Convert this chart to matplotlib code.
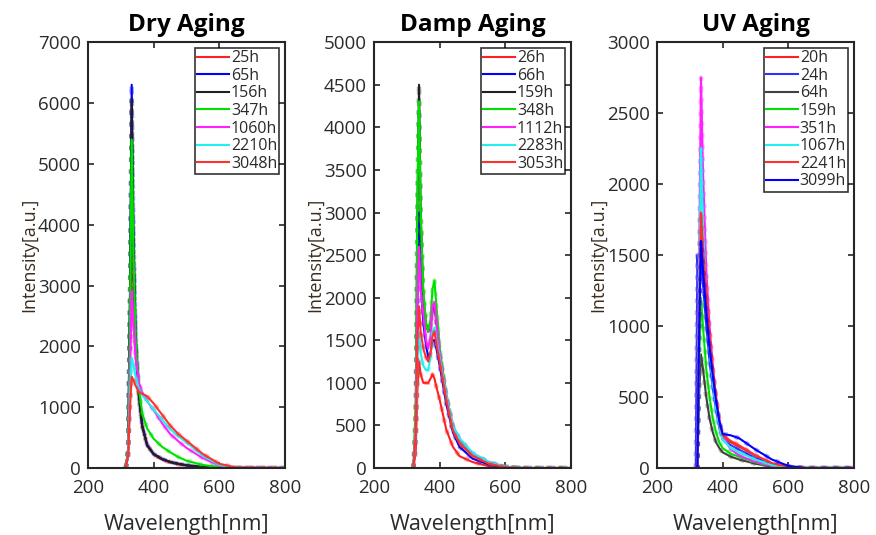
import matplotlib
matplotlib.use('Agg')
import matplotlib.pyplot as plt
import numpy as np

plt.rcParams['font.family'] = ['Open Sans', 'DejaVu Sans']

TXT = '#2a2a2a'

# ---- Dry Aging ----
dry_wl = [315, 322, 328, 333, 338, 345, 355, 365, 380, 400, 425, 450, 475, 500, 550, 600, 650, 800]
dry_labels = ['25h', '65h', '156h', '347h', '1060h', '2210h', '3048h']
dry_colors = ['#ff2020', '#0000ff', '#202020', '#00e000', '#ff20ff', '#20f0f0', '#ff3030']
dry_25 = [0, 200, 2000, 3850, 3000, 2000, 1200, 700, 380, 220, 140, 90, 60, 40, 15, 5, 0, 0]
dry_65 = [0, 300, 3000, 6300, 4000, 2200, 1200, 700, 380, 230, 150, 100, 70, 45, 15, 5, 0, 0]
dry_156 = [0, 300, 2900, 6050, 3800, 2100, 1150, 680, 370, 230, 150, 100, 70, 45, 15, 5, 0, 0]
dry_347 = [0, 300, 2500, 5400, 3600, 2100, 1300, 900, 650, 480, 350, 260, 180, 120, 50, 15, 0, 0]
dry_1060 = [0, 200, 1500, 2900, 2400, 1800, 1400, 1250, 1100, 950, 740, 560, 440, 330, 160, 40, 5, 0]
dry_2210 = [0, 200, 1200, 1800, 1700, 1500, 1300, 1200, 1100, 960, 800, 640, 520, 420, 200, 50, 5, 0]
dry_3048 = [0, 200, 1000, 1500, 1450, 1350, 1250, 1220, 1180, 1060, 880, 700, 560, 450, 230, 70, 10, 0]
dry_series = [dry_25, dry_65, dry_156, dry_347, dry_1060, dry_2210, dry_3048]

# ---- Damp Aging ----
damp_wl = [320, 327, 332, 337, 342, 350, 358, 365, 372, 378, 384, 390, 400, 420, 440, 460, 500, 550, 600, 650, 800]
damp_labels = ['26h', '66h', '159h', '348h', '1112h', '2283h', '3053h']
damp_colors = ['#ff2020', '#0000ff', '#202020', '#00e000', '#ff20ff', '#20f0f0', '#ff3030']
damp_26 = [0, 200, 900, 1250, 1100, 1000, 1000, 1000, 1050, 1100, 1050, 950, 800, 450, 250, 140, 70, 20, 5, 0, 0]
damp_66 = [0, 400, 2000, 3000, 2200, 1700, 1450, 1300, 1350, 1500, 1500, 1400, 1200, 750, 420, 250, 110, 40, 10, 0, 0]
damp_159 = [0, 600, 3000, 4500, 3000, 2000, 1700, 1600, 1650, 1850, 1900, 1700, 1350, 850, 480, 330, 160, 60, 15, 0, 0]
damp_348 = [0, 800, 3200, 4300, 3000, 2100, 1700, 1600, 1750, 2100, 2200, 1900, 1400, 850, 480, 320, 150, 60, 15, 0, 0]
damp_1112 = [0, 500, 1900, 2600, 2100, 1800, 1500, 1400, 1550, 1900, 1950, 1700, 1350, 850, 500, 340, 170, 70, 15, 0, 0]
damp_2283 = [0, 400, 1300, 1600, 1350, 1200, 1150, 1150, 1300, 1600, 1650, 1500, 1300, 850, 500, 350, 180, 70, 15, 0, 0]
damp_3053 = [0, 400, 1500, 1900, 1600, 1400, 1300, 1250, 1350, 1550, 1600, 1450, 1250, 800, 440, 290, 140, 50, 10, 0, 0]
damp_series = [damp_26, damp_66, damp_159, damp_348, damp_1112, damp_2283, damp_3053]

# ---- UV Aging ----
uv_wl = [318, 323, 328, 334, 340, 350, 360, 370, 380, 390, 400, 425, 450, 475, 500, 550, 600, 650, 800]
uv_labels = ['20h', '24h', '64h', '159h', '351h', '1067h', '2241h', '3099h']
uv_colors = ['#ff2020', '#3030ff', '#404040', '#00e000', '#ff20ff', '#20f0f0', '#ff3030', '#0000ff']
uv_20 = [0, 0, 900, 1750, 1500, 1150, 900, 680, 480, 320, 220, 180, 150, 120, 85, 30, 8, 0, 0]
uv_24 = [0, 1500, 1300, 1500, 1300, 1000, 750, 560, 400, 280, 200, 160, 130, 100, 70, 25, 6, 0, 0]
uv_64 = [0, 0, 500, 800, 700, 500, 350, 250, 180, 140, 110, 80, 60, 45, 30, 10, 2, 0, 0]
uv_159 = [0, 0, 700, 1200, 1000, 700, 500, 350, 250, 180, 140, 100, 80, 60, 40, 15, 4, 0, 0]
uv_351 = [0, 0, 1400, 2750, 2100, 1400, 1000, 700, 480, 320, 220, 130, 90, 65, 45, 15, 4, 0, 0]
uv_1067 = [0, 0, 1200, 2250, 1700, 1200, 850, 600, 420, 290, 200, 140, 110, 85, 60, 20, 5, 0, 0]
uv_2241 = [0, 0, 1000, 1800, 1550, 1250, 950, 700, 500, 330, 230, 190, 160, 125, 90, 35, 8, 0, 0]
uv_3099 = [0, 0, 900, 1600, 1400, 1100, 850, 650, 470, 330, 240, 230, 210, 170, 130, 60, 15, 0, 0]
uv_series = [uv_20, uv_24, uv_64, uv_159, uv_351, uv_1067, uv_2241, uv_3099]

panels = [
    ('Dry Aging', dry_wl, dry_series, dry_labels, dry_colors, 7000, 1000, 0.1005),
    ('Damp Aging', damp_wl, damp_series, damp_labels, damp_colors, 5000, 500, 0.427),
    ('UV Aging', uv_wl, uv_series, uv_labels, uv_colors, 3000, 500, 0.750),
]

fig = plt.figure(figsize=(8.76, 5.35), dpi=100)

for title, wl, series, labels, colors, ymax, ystep, left in panels:
    ax = fig.add_axes([left, 0.1252, 0.2249, 0.796])
    for vals, lab, col in zip(series, labels, colors):
        # fuzzy dotted halo like the scanned spectra
        ax.plot(wl, vals, color=col, lw=3.2, ls=':', alpha=0.35)
        ax.plot(wl, vals, color=col, lw=1.5, label=lab)
    ax.set_xlim(200, 800)
    ax.set_ylim(0, ymax)
    ax.set_xticks([200, 400, 600, 800])
    ax.set_yticks(np.arange(0, ymax + 1, ystep))
    ax.tick_params(direction='in', top=True, right=True, labelsize=13.5,
                   colors='#262626', labelcolor=TXT, length=4, width=1.2, pad=5)
    ax.tick_params(axis='x', pad=8)
    for sp in ax.spines.values():
        sp.set_color('#262626')
        sp.set_linewidth(1.5)
    ax.set_title(title, fontsize=17.5, fontweight='bold', color='black', pad=8)
    ax.set_xlabel('Wavelength[nm]', fontsize=15.5, color=TXT, labelpad=12)
    ax.set_ylabel('Intensity[a.u.]', fontsize=13, color='#3a2d20', labelpad=0)
    leg = ax.legend(loc='upper right', fontsize=11.5, frameon=True, fancybox=False,
                    edgecolor='black', handlelength=2.0, handletextpad=0.1,
                    labelspacing=0.1, borderpad=0.15, borderaxespad=0.35,
                    labelcolor=TXT)
    leg.get_frame().set_linewidth(1.2)

fig.savefig('out.png', dpi=100)
